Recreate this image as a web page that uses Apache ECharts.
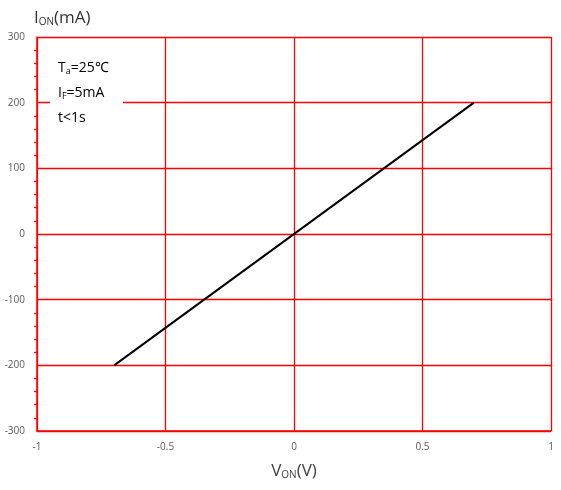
<!DOCTYPE html>
<html><head><meta charset="utf-8">
<script src="https://cdn.jsdelivr.net/npm/echarts@6/dist/echarts.min.js"></script>
<style>html,body{margin:0;padding:0;background:#fff}#c{width:561px;height:490px}</style>
</head><body><div id="c"></div>
<script>
const lineV = [-0.7, 0.7];
const lineI = [-200, 200];
const xTicks = [-1, -0.5, 0, 0.5, 1];
const yTicks = [-300, -200, -100, 0, 100, 200, 300];
const notes = ['T_a=25℃', 'I_F=5mA', 't<1s'];

const chart = echarts.init(document.getElementById('c'));
const red = '#ff0000';
const font = 'Open Sans';
chart.setOption({
  animation: false,
  grid: {left: 37, right: 10, top: 37, bottom: 59},
  xAxis: {
    type: 'value', min: -1, max: 1, interval: 0.5,
    axisLine: {onZero: false, lineStyle: {color: red, width: 1.5}},
    axisTick: {show: false},
    axisLabel: {color: '#595959', fontSize: 10, fontFamily: font, margin: 11},
    splitLine: {show: true, lineStyle: {color: red, width: 1.3}},
    name: '{m|V}{s|ON}{m|(V)}', nameLocation: 'middle', nameGap: 31,
    nameTextStyle: {rich: {m: {fontSize: 17, color: '#404040', fontFamily: font}, s: {fontSize: 10, color: '#404040', fontFamily: font, padding: [8, 0, 0, 0]}}}
  },
  yAxis: {
    type: 'value', min: -300, max: 300, interval: 100,
    axisLine: {onZero: false, lineStyle: {color: red, width: 1.5}},
    axisTick: {show: false},
    minorTick: {show: true, splitNumber: 5, length: 3, lineStyle: {color: red, width: 1.3}},
    axisLabel: {color: '#595959', fontSize: 10, fontFamily: font, margin: 12, inside: false},
    splitLine: {show: true, lineStyle: {color: red, width: 1.3}},
    name: '{m|I}{s|ON}{m|(mA)}', nameLocation: 'end', nameGap: 10,
    nameTextStyle: {align: 'left', padding: [0, 0, 0, -3], rich: {m: {fontSize: 17, color: '#333', fontFamily: font}, s: {fontSize: 10, color: '#333', fontFamily: font, padding: [8, 0, 0, 0]}}}
  },
  series: [{
    type: 'line', data: lineV.map((v, i) => [v, lineI[i]]),
    symbol: 'none', lineStyle: {color: '#000', width: 2}, z: 5
  }],
  graphic: [
    {type: 'rect', left: 50, top: 50, shape: {width: 73, height: 80}, style: {fill: '#fff'}, z: 10},
    ...notes.map((t, i) => {
      const parts = t.split('_');
      let text;
      if (parts.length > 1) {
        const sub = parts[1][0];
        text = '{m|' + parts[0] + '}{s|' + sub + '}{m|' + parts[1].slice(1) + '}';
      } else text = '{m|' + t + '}';
      return {type: 'text', left: 58, top: 61 + i * 25, z: 11,
        style: {text, rich: {m: {fontSize: 14, fill: '#000', fontFamily: font}, s: {fontSize: 9, fill: '#000', fontFamily: font, padding: [6, 0, 0, 0]}}}};
    })
  ]
});
</script></body></html>
